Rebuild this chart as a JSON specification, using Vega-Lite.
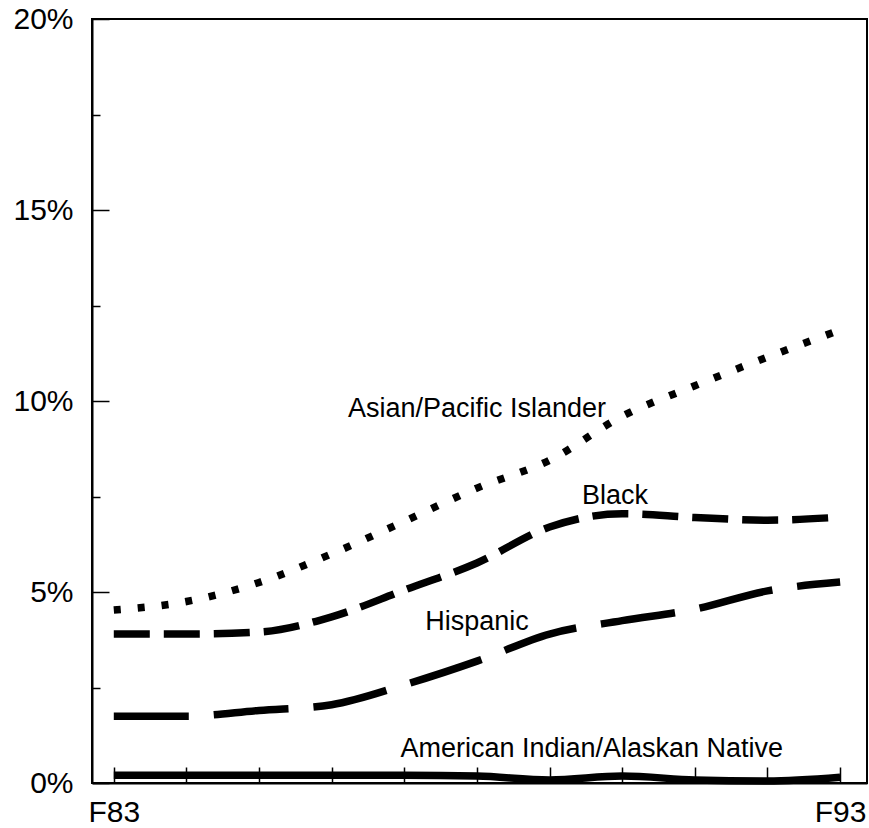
{
  "$schema": "https://vega.github.io/schema/vega-lite/v6.json",
  "width": 775,
  "height": 764,
  "autosize": "none",
  "padding": {"left": 92, "top": 19, "right": 2, "bottom": 45},
  "background": "white",
  "config": {
    "view": {"stroke": "black", "strokeWidth": 2},
    "font": "Liberation Sans",
    "axis": {"domainColor": "black", "domainWidth": 2, "tickColor": "black", "tickWidth": 1.5, "labelColor": "black", "labelFont": "Liberation Sans", "labelFontSize": 30, "grid": false, "title": null}
  },
  "datasets": {
    "series": [
      {"group": "Asian/Pacific Islander", "year": 83, "pct": 4.53},
      {"group": "Asian/Pacific Islander", "year": 84, "pct": 4.75},
      {"group": "Asian/Pacific Islander", "year": 85, "pct": 5.25},
      {"group": "Asian/Pacific Islander", "year": 86, "pct": 6.0},
      {"group": "Asian/Pacific Islander", "year": 87, "pct": 6.85},
      {"group": "Asian/Pacific Islander", "year": 88, "pct": 7.72},
      {"group": "Asian/Pacific Islander", "year": 89, "pct": 8.45},
      {"group": "Asian/Pacific Islander", "year": 90, "pct": 9.6},
      {"group": "Asian/Pacific Islander", "year": 91, "pct": 10.4},
      {"group": "Asian/Pacific Islander", "year": 92, "pct": 11.15},
      {"group": "Asian/Pacific Islander", "year": 93, "pct": 11.86},
      {"group": "Black", "year": 83, "pct": 3.9},
      {"group": "Black", "year": 84, "pct": 3.9},
      {"group": "Black", "year": 85, "pct": 3.95},
      {"group": "Black", "year": 86, "pct": 4.35},
      {"group": "Black", "year": 87, "pct": 5.05},
      {"group": "Black", "year": 88, "pct": 5.76},
      {"group": "Black", "year": 89, "pct": 6.7},
      {"group": "Black", "year": 90, "pct": 7.05},
      {"group": "Black", "year": 91, "pct": 6.95},
      {"group": "Black", "year": 92, "pct": 6.88},
      {"group": "Black", "year": 93, "pct": 6.96},
      {"group": "Hispanic", "year": 83, "pct": 1.75},
      {"group": "Hispanic", "year": 84, "pct": 1.75},
      {"group": "Hispanic", "year": 85, "pct": 1.9},
      {"group": "Hispanic", "year": 86, "pct": 2.05},
      {"group": "Hispanic", "year": 87, "pct": 2.57},
      {"group": "Hispanic", "year": 88, "pct": 3.19},
      {"group": "Hispanic", "year": 89, "pct": 3.9},
      {"group": "Hispanic", "year": 90, "pct": 4.25},
      {"group": "Hispanic", "year": 91, "pct": 4.55},
      {"group": "Hispanic", "year": 92, "pct": 5.03},
      {"group": "Hispanic", "year": 93, "pct": 5.26},
      {"group": "American Indian/Alaskan Native", "year": 83, "pct": 0.2},
      {"group": "American Indian/Alaskan Native", "year": 84, "pct": 0.2},
      {"group": "American Indian/Alaskan Native", "year": 85, "pct": 0.2},
      {"group": "American Indian/Alaskan Native", "year": 86, "pct": 0.2},
      {"group": "American Indian/Alaskan Native", "year": 87, "pct": 0.2},
      {"group": "American Indian/Alaskan Native", "year": 88, "pct": 0.18},
      {"group": "American Indian/Alaskan Native", "year": 89, "pct": 0.08},
      {"group": "American Indian/Alaskan Native", "year": 90, "pct": 0.18},
      {"group": "American Indian/Alaskan Native", "year": 91, "pct": 0.08},
      {"group": "American Indian/Alaskan Native", "year": 92, "pct": 0.05},
      {"group": "American Indian/Alaskan Native", "year": 93, "pct": 0.15}
    ],
    "labels": [
      {"text": "Asian/Pacific Islander", "year": 88.0, "pct": 9.58},
      {"text": "Black", "year": 89.9, "pct": 7.3},
      {"text": "Hispanic", "year": 88.0, "pct": 4.0},
      {"text": "American Indian/Alaskan Native", "year": 89.58, "pct": 0.68}
    ]
  },
  "encoding": {
    "x": {"field": "year", "type": "quantitative", "scale": {"domain": [82.7, 93.37], "nice": false, "zero": false},
      "axis": {"values": [83, 84, 85, 86, 87, 88, 89, 90, 91, 92, 93], "tickSize": -16, "labelPadding": 30, "labelExpr": "datum.value == 83 ? 'F83' : (datum.value == 93 ? 'F93' : '')", "labelFlush": false, "labelOverlap": false}},
    "y": {"field": "pct", "type": "quantitative", "scale": {"domain": [0, 20], "nice": false},
      "axis": {"values": [0, 2.5, 5, 7.5, 10, 12.5, 15, 17.5, 20], "tickSize": {"condition": {"test": "datum.value % 5 === 0", "value": -17}, "value": -8}, "labelPadding": 36, "labelExpr": "datum.value % 5 === 0 ? datum.value + '%' : ''", "labelFlush": false, "labelOverlap": false}}
  },
  "layer": [
    {"data": {"name": "series"}, "transform": [{"filter": "datum.group === 'Asian/Pacific Islander'"}],
     "mark": {"type": "line", "color": "black", "strokeWidth": 7.5, "strokeDash": [7, 17], "strokeCap": "butt", "interpolate": "monotone"}},
    {"data": {"name": "series"}, "transform": [{"filter": "datum.group === 'Black'"}],
     "mark": {"type": "line", "color": "black", "strokeWidth": 7.5, "strokeDash": [36, 14], "strokeCap": "butt", "interpolate": "monotone"}},
    {"data": {"name": "series"}, "transform": [{"filter": "datum.group === 'Hispanic'"}],
     "mark": {"type": "line", "color": "black", "strokeWidth": 7.5, "strokeDash": [75, 25], "strokeCap": "butt", "interpolate": "monotone"}},
    {"data": {"name": "series"}, "transform": [{"filter": "datum.group === 'American Indian/Alaskan Native'"}],
     "mark": {"type": "line", "color": "black", "strokeWidth": 7.5, "strokeCap": "butt", "interpolate": "monotone"}},
    {"data": {"name": "labels"},
     "mark": {"type": "text", "color": "black", "font": "Liberation Sans", "fontSize": 27, "align": "center", "baseline": "alphabetic"},
     "encoding": {"text": {"field": "text"}}}
  ]
}
